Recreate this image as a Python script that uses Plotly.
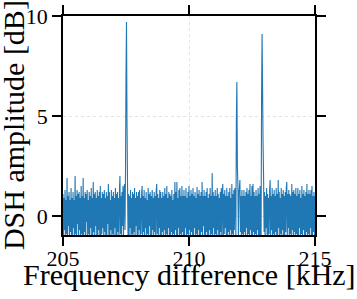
import plotly.graph_objects as go

f_start = 205.0
f_step = 0.02

amplitude_db = [
    1.1,-1.2,0.9,-0.7,1.3,-1.4,0.8,-0.9,1.9,-1.1,1.0,-0.5,1.2,-1.3,0.8,-0.8,1.4,-1.0,0.9,-1.5,
    1.2,-0.6,0.8,-1.2,2.0,-0.9,1.0,-1.4,1.3,-0.4,1.1,-1.1,1.2,-0.7,0.9,-1.3,1.5,-0.9,1.0,-1.0,
    1.9,-1.2,0.9,-0.8,1.2,-1.5,1.1,-0.3,1.3,-1.1,0.8,-0.9,1.2,-1.3,1.0,-0.6,1.4,-1.0,0.9,-1.4,
    1.7,-0.8,1.1,-1.2,1.2,-0.5,0.9,-1.1,1.3,-1.3,1.0,-0.7,1.2,-1.0,1.5,-1.4,0.9,-0.9,1.2,-0.6,
    1.1,-1.2,1.3,-0.8,0.9,-1.5,1.2,-1.0,1.0,-0.4,1.6,-1.1,1.2,-1.3,0.8,-0.7,1.3,-1.2,1.0,-0.9,
    1.2,-1.4,0.9,-0.6,1.4,-1.0,1.1,-1.3,1.2,-0.8,0.9,-1.1,1.3,2.0,-0.9,1.0,-1.2,1.2,-0.5,1.5,
    -1.0,1.2,1.6,-0.7,2.2,7.0,9.7,4.6,1.7,-1.0,1.1,-1.3,1.0,-0.6,1.3,-1.1,0.9,-0.9,1.2,-1.4,
    1.1,-0.8,1.4,-1.2,0.9,-0.5,1.2,-1.0,1.0,-1.3,1.2,-0.7,1.3,-1.1,0.9,-0.9,1.1,1.5,-1.2,1.0,
    -0.8,1.3,-1.4,0.9,-0.6,1.2,-1.1,0.8,-0.9,1.4,-1.2,1.1,-0.5,1.2,-1.0,1.0,-1.3,1.3,-0.7,0.9,
    -1.1,1.2,-0.8,1.0,-1.4,1.3,1.6,-0.9,1.1,-1.2,0.9,-0.6,1.3,-1.0,1.2,-1.3,0.9,-0.8,1.2,-1.1,
    1.0,-0.7,1.4,-1.2,1.1,-0.9,1.5,-1.4,0.9,-0.6,1.2,-1.0,1.1,-1.3,1.0,-0.8,1.3,-1.1,0.8,-0.9,
    1.1,-1.2,1.7,-0.7,1.2,-1.0,1.7,-1.4,0.9,-0.6,1.3,-1.1,1.4,-0.9,1.0,-1.3,1.5,-0.8,1.0,-1.0,
    1.3,-1.2,1.0,-0.6,1.4,-1.4,0.9,-0.9,1.2,-1.1,1.5,-0.7,1.0,-1.3,1.3,-0.8,1.1,-1.2,1.4,-1.0,
    1.0,-0.6,1.2,-1.3,0.9,-0.9,1.45,-1.1,1.1,-0.7,1.3,-1.4,1.0,-1.0,1.2,-0.8,1.7,-1.2,1.0,-0.5,
    1.3,-1.1,1.0,-1.3,1.2,-0.8,1.4,-1.0,0.9,-1.4,1.1,-0.7,1.4,-1.2,1.0,-0.9,2.15,-1.1,1.2,-0.6,
    1.0,-1.3,1.3,-0.9,1.0,-1.2,1.4,-0.7,1.1,-1.0,0.9,-1.4,1.2,-0.8,1.4,-1.1,1.0,1.6,-1.3,1.1,
    -0.9,1.3,-0.6,1.0,-1.2,1.4,-1.0,1.0,-0.8,1.2,-1.4,1.4,-0.7,0.9,-1.1,1.6,-0.9,1.1,-1.3,1.3,
    -0.7,1.4,1.2,-1.0,4.9,6.7,2.4,1.6,-1.1,1.2,1.4,1.8,-0.8,1.0,-1.2,1.3,-0.9,1.0,-1.3,1.3,
    -0.8,1.0,-1.1,1.2,-0.6,1.4,-1.4,1.1,-0.9,1.3,-1.2,1.6,-0.7,1.0,-1.0,1.5,-1.3,1.6,-0.8,1.2,
    -1.1,1.0,-0.9,1.3,-1.3,1.0,-0.7,1.4,-1.0,1.1,-1.2,1.5,-0.8,-1.1,5.9,9.1,6.4,3.5,1.9,-0.8,
    1.2,-1.3,1.0,-0.6,1.4,-1.0,1.1,-1.2,0.9,-0.9,1.3,1.8,-1.1,1.0,-0.7,1.4,-1.4,1.1,-0.9,1.3,
    -1.2,1.0,-0.8,1.4,-1.0,1.1,-1.3,1.8,-0.6,1.2,-1.1,0.9,-0.9,1.4,-1.2,1.1,-0.7,1.3,-1.4,1.0,
    -1.0,1.2,-0.8,1.4,1.7,-1.2,1.1,-0.6,1.3,-1.3,1.1,-0.9,1.0,-1.1,1.6,-0.7,1.2,-1.4,1.3,-0.8,
    1.1,-1.2,1.4,-0.9,1.0,-1.0,1.4,-1.3,1.1,-0.6,1.3,-1.1,0.9,-0.9,1.5,-1.2,1.1,-0.7,1.3,-1.0,
    1.0,-1.3,1.2,-0.8,1.6,-1.1,1.1,-0.9,1.3,-1.4,1.1,-0.6,1.3,-1.2,1.5,-1.0,1.0,-0.8,1.2,-1.1,
    1.0,
]
frequency_khz = [round(f_start + f_step * i, 4) for i in range(len(amplitude_db))]

x_ticks = [205, 210, 215]
y_ticks = [0, 5, 10]
x_title = "Frequency difference [kHz]"
y_title = "DSH amplitude [dB]"

FONT = "Liberation Serif"

fig = go.Figure()
fig.add_trace(go.Scatter(
    x=frequency_khz, y=amplitude_db, mode="lines",
    line=dict(color="#1f77b4", width=1.1, simplify=False),
    hoverinfo="skip", showlegend=False,
))

axis_common = dict(
    showline=True, linecolor="black", linewidth=1.5, mirror="ticks",
    ticks="outside", ticklen=9, tickwidth=1.5, tickcolor="black",
    showgrid=True, gridcolor="#e3e3e3", gridwidth=0.7, griddash="dot",
    zeroline=False, automargin=False,
    tickfont=dict(family=FONT, size=22, color="black"),
)

fig.update_layout(
    width=357, height=299,
    margin=dict(l=63, r=42, t=16, b=64),
    paper_bgcolor="white", plot_bgcolor="white",
    font=dict(family=FONT, color="black"),
    xaxis=dict(range=[205, 215], tickvals=x_ticks, ticktext=[str(v) for v in x_ticks],
               ticklabelstandoff=-6, **axis_common),
    yaxis=dict(range=[-0.95, 10], tickvals=y_ticks, ticktext=[str(v) for v in y_ticks],
               **axis_common),
    annotations=[
        dict(text=x_title, xref="paper", yref="paper", x=0.5, y=-0.182,
             xanchor="center", yanchor="middle", showarrow=False,
             font=dict(family=FONT, size=30, color="black")),
        dict(text=y_title, xref="paper", yref="paper", x=-0.196, y=0.5, textangle=-90,
             xanchor="center", yanchor="middle", showarrow=False,
             font=dict(family=FONT, size=30, color="black")),
    ],
)

fig.write_html("out.html", config={"displayModeBar": False},
               post_script="document.body.style.margin='0';")
